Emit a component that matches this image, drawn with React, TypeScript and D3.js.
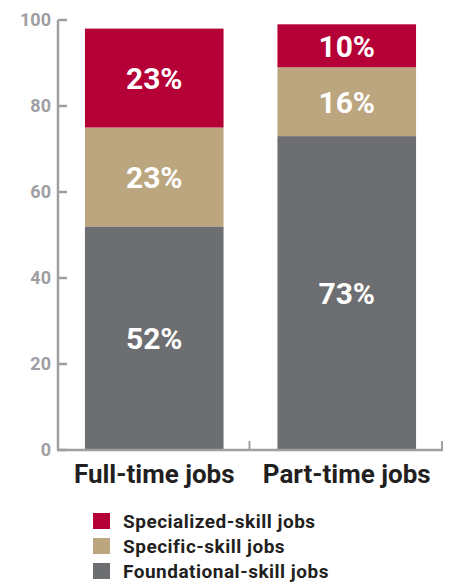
import React from "react";
import * as d3 from "d3";

const categories = ["Full-time jobs", "Part-time jobs"];
const seriesNames = ["Foundational-skill jobs", "Specific-skill jobs", "Specialized-skill jobs"];
const foundational = [52, 73];
const specific = [23, 16];
const specialized = [23, 10];
const yTicks = [0, 20, 40, 60, 80, 100];
const colors = ["#6d6e71", "#bba67f", "#b50037"];
const legendOrder = [2, 1, 0];

const W = 450;
const H = 583;

export default function App() {
  const x = d3.scaleBand<string>().domain(categories).range([58, 443]).paddingInner(0.28).paddingOuter(0.14);
  const y = d3.scaleLinear().domain([0, 100]).range([450, 20]);
  const seriesVals = [foundational, specific, specialized];
  const rows = categories.map((c, i) => {
    const o: any = { cat: c };
    seriesNames.forEach((s, k) => (o[s] = seriesVals[k][i]));
    return o;
  });
  const stacked = d3.stack<any>().keys(seriesNames)(rows);
  const font = "Roboto, 'DejaVu Sans', sans-serif";
  const axisColor = "#9e9ea3";
  return (
    <svg width={W} height={H} style={{ position: "absolute", left: 0, top: 0 }} fontFamily={font}>
      {stacked.map((layer, k) =>
        layer.map((d, i) => {
          const x0 = x(categories[i])!;
          const y0 = y(d[1]);
          const h = y(d[0]) - y(d[1]);
          return (
            <g key={`${k}-${i}`}>
              <rect x={x0} y={y0} width={x.bandwidth()} height={h} fill={colors[k]} />
              <text
                x={x0 + x.bandwidth() / 2}
                y={y0 + h / 2}
                dy="0.36em"
                textAnchor="middle"
                fill="#ffffff"
                fontSize={30}
                fontWeight={700}
              >
                {`${d[1] - d[0]}%`}
              </text>
            </g>
          );
        })
      )}
      {/* y axis */}
      <line x1={58} x2={58} y1={y(100)} y2={y(0)} stroke={axisColor} strokeWidth={2.5} />
      {yTicks.map((t) => (
        <g key={t}>
          <line x1={58} x2={67} y1={y(t)} y2={y(t)} stroke={axisColor} strokeWidth={2.5} />
          <text x={51} y={y(t)} dy="0.36em" textAnchor="end" fill={axisColor} fontSize={18} fontWeight={700}>
            {t}
          </text>
        </g>
      ))}
      {/* x axis */}
      <line x1={57} x2={443} y1={y(0)} y2={y(0)} stroke={axisColor} strokeWidth={2.5} />
      {[x.step() + 58, 443].map((px, i) => (
        <line key={i} x1={px - 1} x2={px - 1} y1={y(0)} y2={y(0) - 9} stroke={axisColor} strokeWidth={2} />
      ))}
      {categories.map((c) => (
        <text
          key={c}
          x={x(c)! + x.bandwidth() / 2}
          y={483}
          textAnchor="middle"
          fill="#231f20"
          fontSize={26}
          fontWeight={700}
        >
          {c}
        </text>
      ))}
      {/* legend */}
      {legendOrder.map((k, i) => (
        <g key={k} transform={`translate(93, ${513 + i * 25})`}>
          <rect x={0} y={0} width={17} height={16} fill={colors[k]} />
          <text x={30} y={8} dy="0.36em" fill="#231f20" fontSize={19} fontWeight={700} letterSpacing={0.5}>
            {seriesNames[k]}
          </text>
        </g>
      ))}
    </svg>
  );
}
